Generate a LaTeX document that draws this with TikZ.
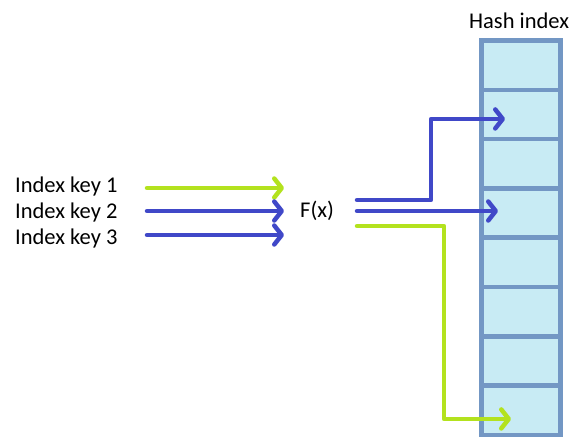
\documentclass[tikz,border=0pt]{standalone}
\usepackage{fontspec}
\setmainfont{Carlito}
\usetikzlibrary{arrows.meta, calc}
\definecolor{keygreen}{HTML}{B3E21E}
\definecolor{keyblue}{HTML}{4048C8}
\definecolor{cellfill}{HTML}{C8EBF4}
\definecolor{cellline}{HTML}{7397C4}

\begin{document}
\begin{tikzpicture}[
  x=1pt, y=-1pt,
  font=\fontsize{22.5}{26}\selectfont,
  lbl/.style={inner sep=0pt, anchor=base west},
  cell/.style={draw=cellline, fill=cellfill, line width=4.5pt, outer sep=0pt,
               minimum width=79pt, minimum height=49.3pt, inner sep=0pt},
  ar/.style={line width=4.5pt, line cap=round, line join=round,
             -{Straight Barb[length=7.5pt, width=19pt, round]}},
  gar/.style={ar, draw=keygreen},
  bar/.style={ar, draw=keyblue}
]
\useasboundingbox (0,0) rectangle (571,437);
\foreach \i in {1,...,8}
  \node[cell] (cell\i) at (521,{40.5+49.3*(\i-0.5)}) {};
\node[lbl] (hash) at (469,28)  {Hash index};
\node[lbl] (key1) at (15,192)  {Index key 1};
\node[lbl] (key2) at (15,218)  {Index key 2};
\node[lbl] (key3) at (15,244)  {Index key 3};
\node[lbl] (fx)   at (300,217) {F(x)};
\coordinate (in1) at (147,188);
\coordinate (in2) at (147,211);
\coordinate (in3) at (147,235);
\coordinate (out1) at (357,200);
\coordinate (out2) at (357,211);
\coordinate (out3) at (357,226);
\coordinate (tip1) at ($(cell2.west)+(23.5,4.5)$);
\coordinate (tip2) at ($(cell4.west)+(16.5,0)$);
\coordinate (tip3) at ($(cell8.west)+(29.5,8.7)$);
\draw[gar] (in1) -- ([xshift=-16pt]in1 -| fx.west);
\draw[bar] (in2) -- ([xshift=-16pt]in2 -| fx.west);
\draw[bar] (in3) -- ([xshift=-16pt]in3 -| fx.west);
\draw[bar] (out1) -- ++(74,0) |- (tip1);
\draw[bar] (out2) -- (out2 -| tip2);
\draw[gar] (out3) -- ++(87,0) |- (tip3);
\end{tikzpicture}
\end{document}
